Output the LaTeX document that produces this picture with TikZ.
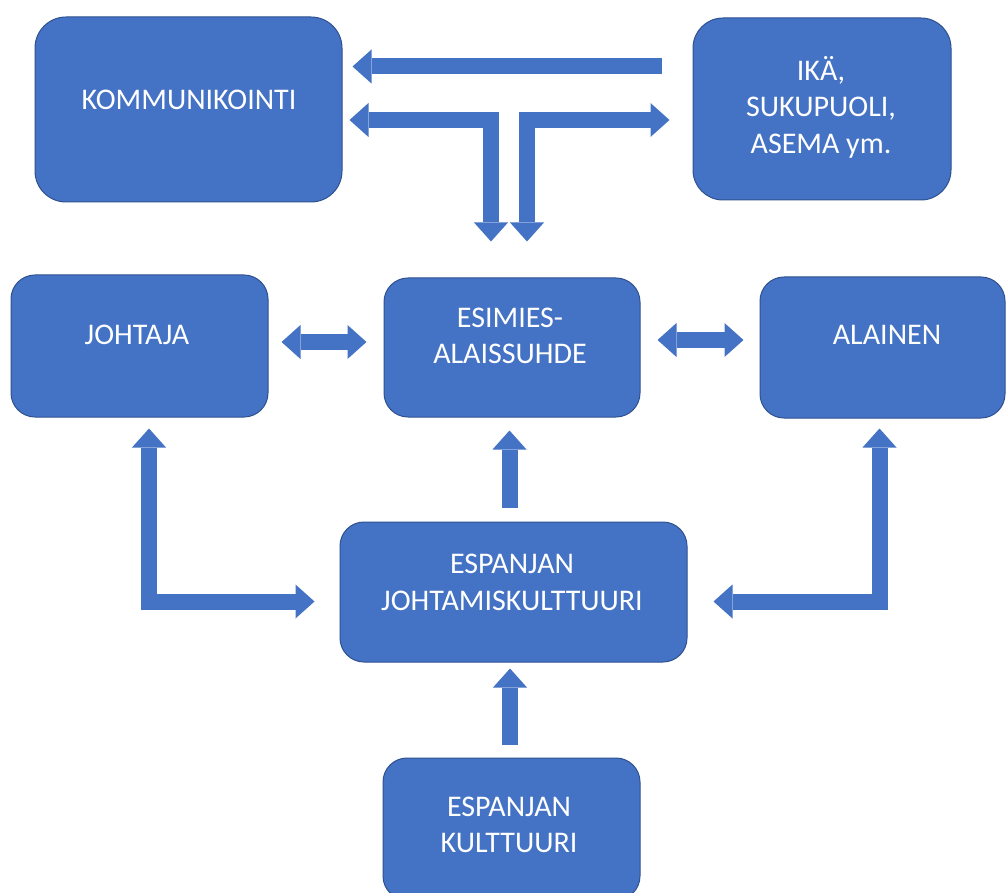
\documentclass[tikz,border=0pt]{standalone}
\usepackage{fontspec}
\setmainfont{Carlito}
\usetikzlibrary{arrows.meta,calc}
\definecolor{ablue}{HTML}{4472C4}
\definecolor{aedge}{HTML}{2F528F}
\begin{document}
\begin{tikzpicture}[x=1pt,y=-1pt,
  box/.style={draw=aedge, line width=1pt, fill=ablue, inner sep=0pt},
  lbl/.style={text=white, font=\fontsize{30pt}{36.5pt}\selectfont, align=center, inner sep=0pt},
  blk/.style={draw=ablue, line width=16pt, line join=miter, line cap=butt},
  fw/.style={blk, -{Triangle[width=34pt,length=19pt,line width=0pt]}},
  bw/.style={blk, {Triangle[width=34pt,length=19pt,line width=0pt]}-{Triangle[width=34pt,length=19pt,line width=0pt]}}
  ]
\useasboundingbox (0,0) rectangle (1007,893);
\clip (0,0) rectangle (1007,893);
\fill[white] (0,0) rectangle (1007,893);

% boxes
\node[box, minimum width=307pt, minimum height=185pt, rounded corners=31pt] (komm) at (188.5,109.5) {};
\node[box, minimum width=258pt, minimum height=182pt, rounded corners=30pt] (ika) at (822,109) {};
\node[box, minimum width=257pt, minimum height=142pt, rounded corners=24pt] (joht) at (139.5,346) {};
\node[box, minimum width=256pt, minimum height=139pt, rounded corners=24pt] (esim) at (512,347.5) {};
\node[box, minimum width=245pt, minimum height=141pt, rounded corners=24pt] (alai) at (882.5,347.5) {};
\node[box, minimum width=347pt, minimum height=140pt, rounded corners=24pt] (ej) at (513.5,592) {};
\node[box, minimum width=257pt, minimum height=142pt, rounded corners=24pt] (ek) at (511.5,829) {};

% labels
\node[lbl] (kommt) at (189,100) {KOMMUNIKOINTI};
\node[lbl] (ikat) at (821,107) {IKÄ,\\SUKUPUOLI,\\ASEMA ym.};
\node[lbl] (johtt) at (137,335) {JOHTAJA};
\node[lbl] (esimt) at (510,336) {ESIMIES-\\ALAISSUHDE};
\node[lbl] (alait) at (887,335) {ALAINEN};
\node[lbl] (ejt) at (512,582.5) {ESPANJAN\\JOHTAMISKULTTUURI};
\node[lbl] (ekt) at (509,825) {ESPANJAN\\KULTTUURI};

% arrow end points
\coordinate (a1s) at ($(ika.west)+(-31,-42.5)$);
\coordinate (a1e) at ($(komm.east)+(10,-43)$);
\coordinate (a2s) at ($(komm.east)+(7,10.5)$);
\coordinate (a2e) at ($(esim.north)+(-21,-36)$);
\coordinate (a3s) at ($(esim.north)+(15,-36)$);
\coordinate (a3e) at ($(ika.west)+(-23,11)$);
\coordinate (a4s) at ($(joht.east)+(13,-4)$);
\coordinate (a4e) at ($(esim.west)+(-17,-5.5)$);
\coordinate (a5s) at ($(esim.east)+(17,-7.5)$);
\coordinate (a5e) at ($(alai.west)+(-16,-7.5)$);
\coordinate (a6s) at ($(ej.north)+(-4,-14)$);
\coordinate (a6e) at ($(esim.south)+(-2.5,13)$);
\coordinate (a7s) at ($(ek.north)+(-1.5,-13)$);
\coordinate (a7e) at ($(ej.south)+(-3.5,6)$);
\coordinate (a8s) at ($(joht.south)+(9.5,11)$);
\coordinate (a8e) at ($(ej.west)+(-25,9.5)$);
\coordinate (a9s) at ($(alai.south)+(-3,10)$);
\coordinate (a9e) at ($(ej.east)+(26,9.5)$);

% arrows
\draw[fw] (a1s) -- (a1e);
\draw[bw] (a2s) -| (a2e);
\draw[bw] (a3s) |- (a3e);
\draw[bw] (a4s) -- (a4e);
\draw[bw] (a5s) -- (a5e);
\draw[fw] (a6s) -- (a6e);
\draw[fw] (a7s) -- (a7e);
\draw[bw] (a8s) |- (a8e);
\draw[bw] (a9s) |- (a9e);
\end{tikzpicture}
\end{document}
